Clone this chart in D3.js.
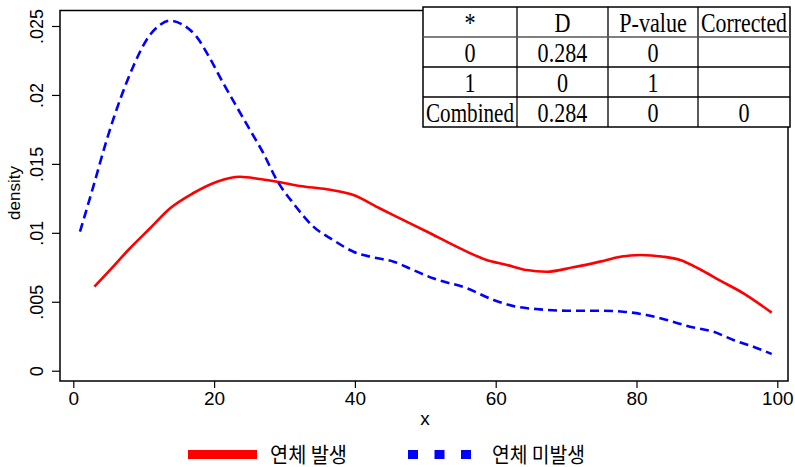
<!DOCTYPE html>
<html>
<head>
<meta charset="utf-8">
<script src="https://cdn.jsdelivr.net/npm/d3@7"></script>
<style>
  html, body { margin: 0; padding: 0; background: #fff; }
  svg { display: block; }
</style>
</head>
<body>
<svg id="chart" width="795" height="467"></svg>
<script>
// ---------- data ----------
const seriesNames = ["연체 발생", "연체 미발생"];
const redX = [3, 5.2, 8.05, 10.9, 13.75, 17.0, 20.4, 23.7, 26.5, 29.4, 32.2, 36.0, 39.8, 43.5, 46.4, 50.7, 55.4, 58.7, 61.6, 64.4, 67.2, 71.0, 74.8, 77.7, 80.5, 83.8, 86.2, 89.0, 91.9, 95.2, 99.2];
const redY = [0.00609, 0.0073, 0.00888, 0.01033, 0.01178, 0.01287, 0.01371, 0.01407, 0.0139, 0.01367, 0.0134, 0.01316, 0.01274, 0.01178, 0.01105, 0.00997, 0.00876, 0.00803, 0.00767, 0.0073, 0.00718, 0.0075, 0.00791, 0.00827, 0.00839, 0.00827, 0.00803, 0.00736, 0.00653, 0.00561, 0.00421];
const blueX = [0.95, 2.84, 4.74, 6.63, 8.5, 10.4, 12.3, 13.7, 15.6, 17.5, 19.4, 21.3, 23.2, 25.1, 27.0, 28.9, 31.25, 34.1, 36.9, 39.8, 42.6, 45.5, 48.3, 51.1, 55.9, 59.7, 63.0, 66.3, 70.1, 74.8, 78.1, 81.4, 84.3, 87.6, 90.9, 93.75, 96.6, 99.2];
const blueY = [0.01008, 0.01335, 0.01673, 0.01964, 0.02205, 0.02399, 0.02508, 0.02539, 0.02508, 0.02423, 0.02266, 0.02085, 0.01915, 0.01746, 0.01577, 0.01383, 0.01214, 0.01045, 0.00948, 0.00863, 0.00822, 0.00791, 0.0073, 0.0067, 0.00598, 0.00513, 0.00464, 0.00445, 0.00435, 0.00435, 0.00428, 0.00404, 0.00368, 0.00319, 0.00283, 0.00223, 0.00174, 0.00121];
const xTicks = [0, 20, 40, 60, 80, 100];
const yTicks = [0, 0.005, 0.01, 0.015, 0.02, 0.025];
const yTickLabels = ["0", ".005", ".01", ".015", ".02", ".025"];
const tableHeader = ["*", "D", "P-value", "Corrected"];
const tableRows = [
  ["0", "0.284", "0", ""],
  ["1", "0", "1", ""],
  ["Combined", "0.284", "0", "0"]
];

// ---------- layout ----------
const svg = d3.select("#chart");
const frame = { left: 60, right: 788, top: 10.5, bottom: 381 };
const x = d3.scaleLinear().domain([0, 100]).range([73.3, 777.3]);
const y = d3.scaleLinear().domain([0, 0.025]).range([370.7, 26]);
const RED = "#ff0000", BLUE = "#0000ff";
const sans = "'Liberation Sans', Arial, sans-serif";
const serif = "'Liberation Serif', 'Times New Roman', serif";

svg.append("rect").attr("width", 795).attr("height", 467).attr("fill", "#fff");

// frame
svg.append("rect")
  .attr("x", frame.left).attr("y", frame.top)
  .attr("width", frame.right - frame.left).attr("height", frame.bottom - frame.top)
  .attr("fill", "none").attr("stroke", "#000").attr("stroke-width", 1.5);

// x axis
const xAxis = svg.append("g")
  .attr("transform", `translate(0,${frame.bottom})`)
  .call(d3.axisBottom(x).tickValues(xTicks).tickSize(7).tickPadding(4).tickFormat(d3.format("d")));
xAxis.select(".domain").remove();
xAxis.selectAll("line").attr("stroke", "#000").attr("stroke-width", 1.2);
xAxis.selectAll("text").attr("font-family", sans).attr("font-size", 19).attr("fill", "#000");

// y axis
const yAxis = svg.append("g")
  .attr("transform", `translate(${frame.left},0)`)
  .call(d3.axisLeft(y).tickValues(yTicks).tickSize(8).tickFormat((d, i) => yTickLabels[i]));
yAxis.select(".domain").remove();
yAxis.selectAll("line").attr("stroke", "#000").attr("stroke-width", 1.2);
yAxis.selectAll("text")
  .attr("font-family", sans).attr("font-size", 18).attr("fill", "#000")
  .attr("x", null).attr("dy", null)
  .attr("text-anchor", "middle")
  .attr("transform", "translate(-17,0) rotate(-90)");

// axis titles
svg.append("text")
  .attr("x", 20).attr("y", 193)
  .attr("transform", "rotate(-90,20,193)")
  .attr("text-anchor", "middle")
  .attr("font-family", sans).attr("font-size", 17)
  .text("density");
svg.append("text")
  .attr("x", 425).attr("y", 425)
  .attr("text-anchor", "middle")
  .attr("font-family", sans).attr("font-size", 19)
  .text("x");

// lines
const line = d3.line().x(d => x(d[0])).y(d => y(d[1])).curve(d3.curveMonotoneX);
const redData = redX.map((v, i) => [v, redY[i]]);
const blueData = blueX.map((v, i) => [v, blueY[i]]);
svg.append("path").datum(redData)
  .attr("d", line).attr("fill", "none").attr("stroke", RED).attr("stroke-width", 2.6);
svg.append("path").datum(blueData)
  .attr("d", line).attr("fill", "none").attr("stroke", BLUE).attr("stroke-width", 2.6)
  .attr("stroke-dasharray", "9,5");

// table
const colEdges = [423, 517, 608, 698, 790];
const rowEdges = [7, 37, 67, 97, 127];
const tbl = svg.append("g");
tbl.append("rect")
  .attr("x", colEdges[0]).attr("y", rowEdges[0])
  .attr("width", colEdges[4] - colEdges[0]).attr("height", rowEdges[4] - rowEdges[0])
  .attr("fill", "#fff").attr("stroke", "#000").attr("stroke-width", 1.5);
colEdges.slice(1, -1).forEach(cx => {
  tbl.append("line").attr("x1", cx).attr("x2", cx).attr("y1", rowEdges[0]).attr("y2", rowEdges[4])
    .attr("stroke", "#000").attr("stroke-width", 1.3);
});
rowEdges.slice(1, -1).forEach((ry, i) => {
  tbl.append("line").attr("x1", colEdges[0]).attr("x2", colEdges[4]).attr("y1", ry).attr("y2", ry)
    .attr("stroke", i === 0 ? "#555" : "#000").attr("stroke-width", 1.3);
});
const allRows = [tableHeader, ...tableRows];
allRows.forEach((row, ri) => {
  row.forEach((cell, ci) => {
    if (!cell) return;
    const cx = (colEdges[ci] + colEdges[ci + 1]) / 2;
    const by = rowEdges[ri] + 24.5;
    const colW = colEdges[ci + 1] - colEdges[ci];
    const t = tbl.append("text")
      .attr("text-anchor", "middle")
      .attr("font-family", serif).attr("font-size", 27)
      .attr("fill", "#000")
      .text(cell);
    const w = t.node().getComputedTextLength();
    const sx = Math.min(0.82, (colW - 6) / w);
    t.attr("transform", `translate(${cx},${by}) scale(${sx},1)`);
  });
});

// legend
const leg = svg.append("g");
leg.append("line").attr("x1", 188).attr("x2", 257).attr("y1", 454.5).attr("y2", 454.5)
  .attr("stroke", RED).attr("stroke-width", 9);
leg.append("text").attr("x", 270).attr("y", 462)
  .attr("font-family", "'Noto Sans CJK KR', sans-serif").attr("font-size", 21)
  .attr("textLength", 77).attr("lengthAdjust", "spacingAndGlyphs")
  .text(seriesNames[0]);
leg.append("line").attr("x1", 408).attr("x2", 471).attr("y1", 454.5).attr("y2", 454.5)
  .attr("stroke", BLUE).attr("stroke-width", 9).attr("stroke-dasharray", "10,16.5");
leg.append("text").attr("x", 492).attr("y", 462)
  .attr("font-family", "'Noto Sans CJK KR', sans-serif").attr("font-size", 21)
  .attr("textLength", 93).attr("lengthAdjust", "spacingAndGlyphs")
  .text(seriesNames[1]);
</script>
</body>
</html>
